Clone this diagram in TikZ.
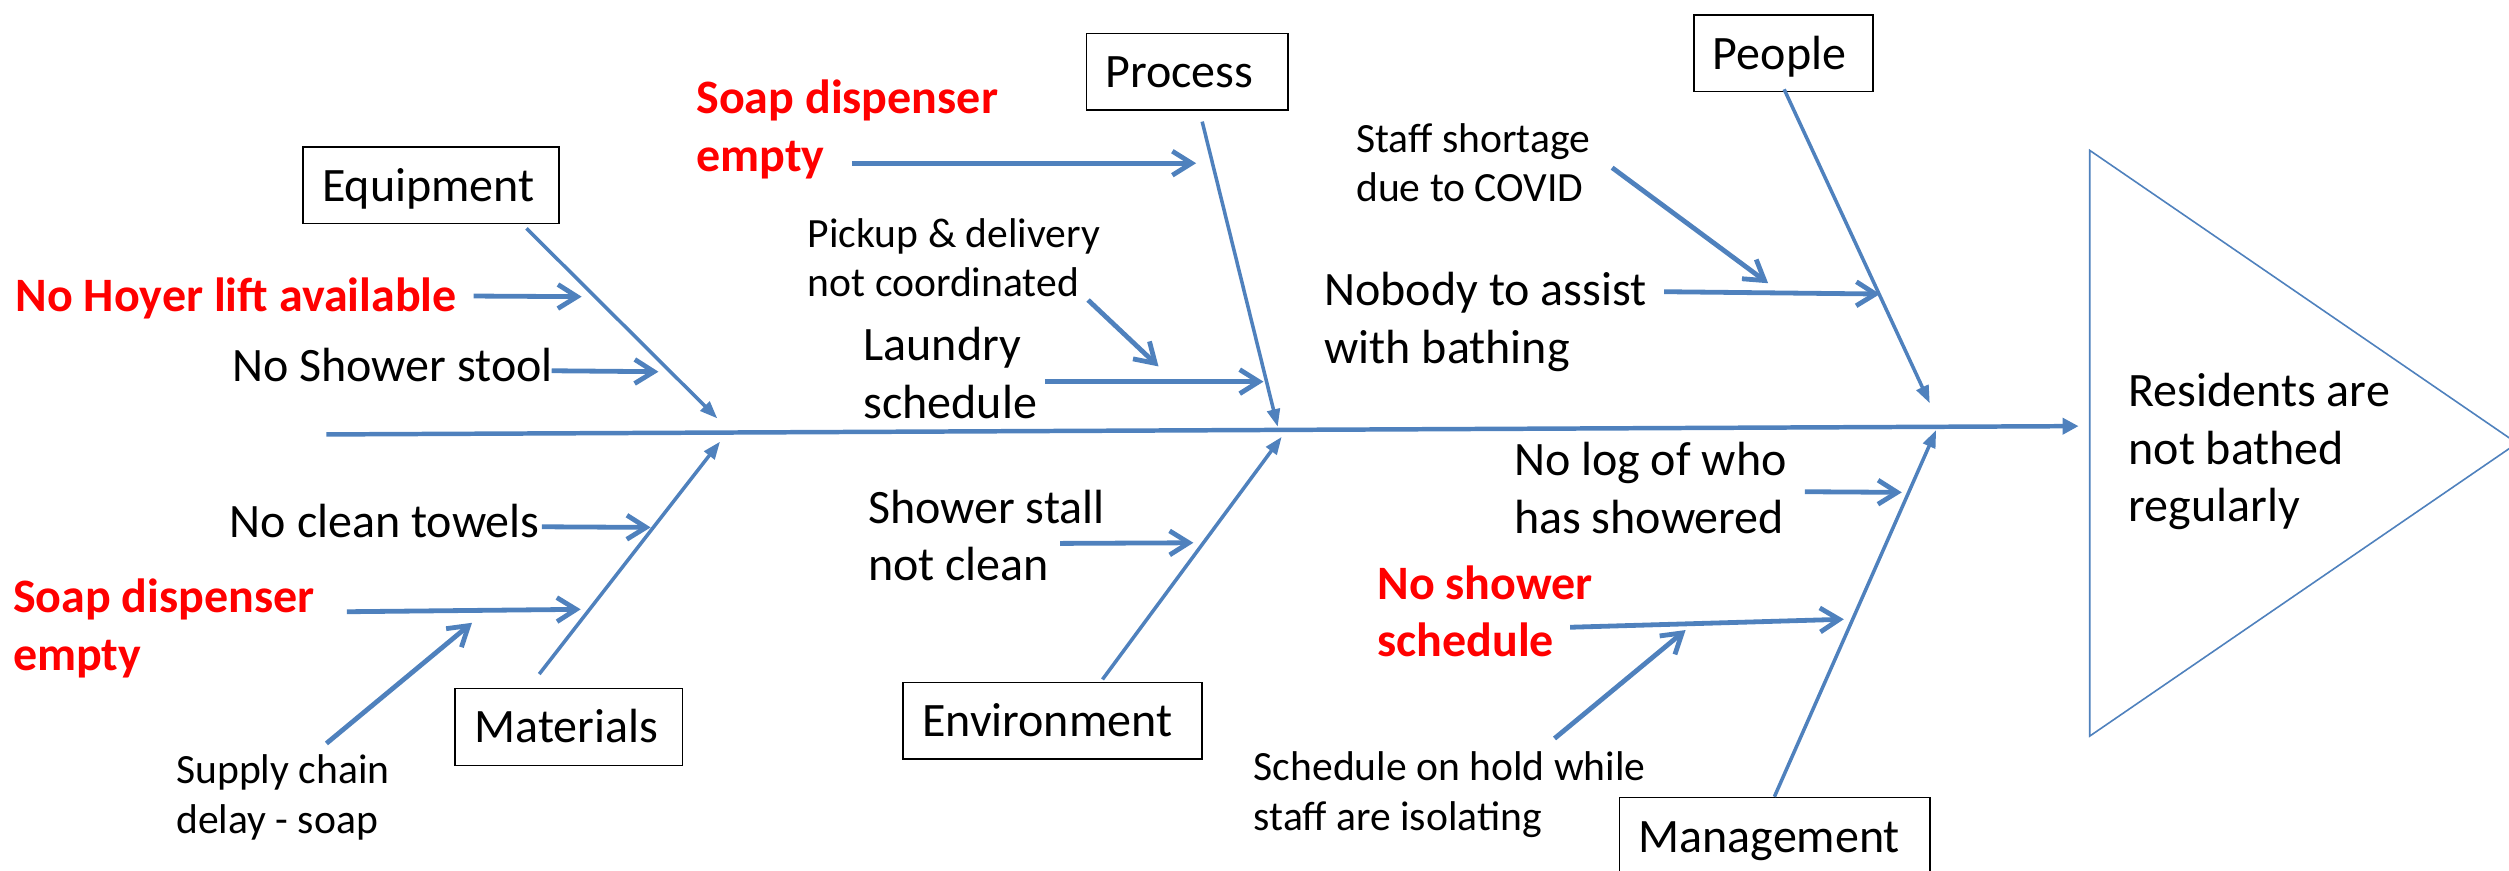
\documentclass[tikz,border=0pt]{standalone}
\usepackage{fontspec}
\setmainfont{Carlito}
\usetikzlibrary{arrows.meta}

\definecolor{fishblue}{HTML}{4F81BD}
\definecolor{keyred}{HTML}{FF0000}

\newcommand{\bigtext}{\fontsize{30}{36}\selectfont}
\newcommand{\smalltext}{\fontsize{26}{31}\selectfont}

\tikzset{%
catbox/.style={draw=black,line width=1pt,anchor=north west,inner xsep=12pt,inner ysep=0pt,text width=#1,align=left,text height=34pt,text depth=14pt,font=\bigtext},
cause/.style={anchor=base west,inner sep=0pt,align=left,font=\bigtext},
smallcause/.style={anchor=base west,inner sep=0pt,align=left,font=\smalltext},
keycause/.style={anchor=base west,inner sep=0pt,align=left,text=keyred,font=\bigtext\bfseries},
spine/.style={draw=fishblue,line width=2.8pt,-{Triangle[length=10pt,width=10pt]}},
bone/.style={draw=fishblue,line width=2.2pt,-{Triangle[length=11pt,width=8pt]}},
twig/.style={draw=fishblue,line width=3pt,-{Straight Barb[length=12pt,width=15pt]}},
head/.style={draw=fishblue,line width=1pt,line join=miter}
}

\begin{document}
\begin{tikzpicture}[x=1pt,y=-1pt]
  \useasboundingbox (0,0) rectangle (1568,544);

  % effect at the head of the fish
  \draw[head] (1306,94) -- (1306,460) -- (1573,277) -- cycle;
  \node[cause] (effect) at (1330,326) {Residents are\\not bathed\\regularly};

  % main categories
  \node[catbox=136pt] (equip) at (188.8,91.25) {Equipment};
  \node[catbox=102pt] (proc) at (678.4,20.4) {Process};
  \node[catbox=88pt] (people) at (1058,8.75) {People};
  \node[catbox=118pt] (mat) at (284,429.8) {Materials};
  \node[catbox=163pt] (env) at (563.8,426) {Environment};
  \node[catbox=170pt] (mgmt) at (1011.5,498) {Management};

  % spine and bones
  \coordinate (sp-tail) at (204,271.5);
  \coordinate (sp-tip) at (1299,266.3);
  \coordinate (eq-tail) at (329,142.7);
  \coordinate (eq-tip) at (448.3,261.5);
  \coordinate (pr-tail) at (751.3,76);
  \coordinate (pr-tip) at (798.5,266.7);
  \coordinate (pe-tail) at (1115,55.8);
  \coordinate (pe-tip) at (1206,252);
  \coordinate (ma-tail) at (337,421.25);
  \coordinate (ma-tip) at (450,276);
  \coordinate (en-tail) at (689,424.6);
  \coordinate (en-tip) at (801,273);
  \coordinate (mg-tail) at (1108.9,497.9);
  \coordinate (mg-tip) at (1210,268.75);

  \draw[spine] (sp-tail) -- (sp-tip);
  \draw[bone] (eq-tail) -- (eq-tip);
  \draw[bone] (pr-tail) -- (pr-tip);
  \draw[bone] (pe-tail) -- (pe-tip);
  \draw[bone] (ma-tail) -- (ma-tip);
  \draw[bone] (en-tail) -- (en-tip);
  \draw[bone] (mg-tail) -- (mg-tip);

  % causes (placed at the baseline of their last line)
  \node[keycause] (hoyer) at (9.6,194.8) {No Hoyer lift available};
  \node[cause] (stool) at (145,238.5) {No Shower stool};
  \node[cause] (towels) at (143.5,335.8) {No clean towels};
  \node[keycause] (soapmat) at (8,418.75) {Soap dispenser\\empty};
  \node[smallcause] (supply) at (110,520.8) {Supply chain\\delay - soap};
  \node[keycause] (soapproc) at (435,107) {Soap dispenser\\empty};
  \node[smallcause] (pickup) at (504.7,185.4) {Pickup \& delivery\\not coordinated};
  \node[cause] (laundry) at (539.4,261.5) {Laundry\\schedule};
  \node[cause] (stall) at (542.3,362.9) {Shower stall\\not clean};
  \node[smallcause] (staff) at (847.4,126) {Staff shortage\\due to COVID};
  \node[cause] (nobody) at (827.5,227) {Nobody to assist\\with bathing};
  \node[cause] (nolog) at (946,333.3) {No log of who\\has showered};
  \node[keycause] (noshower) at (860.6,410.4) {No shower\\schedule};
  \node[smallcause] (onhold) at (783.4,518.75) {Schedule on hold while\\staff are isolating};

  % arrows from the causes
  \coordinate (hoyer-a) at (296,185);      \coordinate (hoyer-b) at (363.5,185.4);
  \coordinate (stool-a) at (344.8,231.7);  \coordinate (stool-b) at (411.5,232.3);
  \coordinate (towels-a) at (338.6,329.2); \coordinate (towels-b) at (406.6,329.6);
  \coordinate (soapmat-a) at (216.8,382.3); \coordinate (soapmat-b) at (362.9,380.8);
  \coordinate (supply-a) at (204,464.6);   \coordinate (supply-b) at (295,389.2);
  \coordinate (soapproc-a) at (532.4,102); \coordinate (soapproc-b) at (747.5,102);
  \coordinate (pickup-a) at (680,187.5);   \coordinate (pickup-b) at (724,229);
  \coordinate (laundry-a) at (653,238.5);  \coordinate (laundry-b) at (789.6,238.5);
  \coordinate (stall-a) at (662.5,339.6);  \coordinate (stall-b) at (745.8,339.2);
  \coordinate (staff-a) at (1007.5,104.8); \coordinate (staff-b) at (1105,177);
  \coordinate (nobody-a) at (1040,182.3);  \coordinate (nobody-b) at (1174.9,183.75);
  \coordinate (nolog-a) at (1128,307.3);   \coordinate (nolog-b) at (1188.5,307.7);
  \coordinate (noshower-a) at (981.2,392); \coordinate (noshower-b) at (1152.3,387);
  \coordinate (onhold-a) at (971.5,461.5); \coordinate (onhold-b) at (1053.4,393.75);

  \foreach \c in {hoyer,stool,towels,soapmat,supply,soapproc,pickup,laundry,stall,staff,nobody,nolog,noshower,onhold}
    \draw[twig] (\c-a) -- (\c-b);

\end{tikzpicture}
\end{document}
